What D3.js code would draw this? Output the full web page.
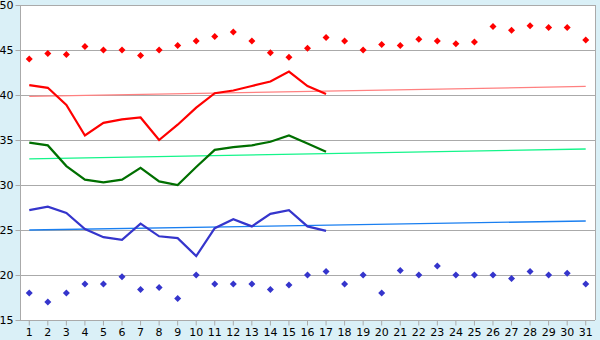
<!DOCTYPE html>
<html>
<head>
<meta charset="utf-8">
<script src="https://cdn.jsdelivr.net/npm/d3@7"></script>
<style>
  body { margin: 0; background: #daf0f7; }
  text { font-family: "DejaVu Sans", Verdana, sans-serif; font-size: 11px; fill: #000; }
</style>
</head>
<body>
<script>
// Jours du mois (axe des x)
var days = d3.range(1, 32);

// Nuages de points haut et bas
var upperPts = [44.0, 44.6, 44.5, 45.4, 45.0, 45.0, 44.4, 45.0, 45.5, 46.0,
  46.5, 47.0, 46.0, 44.7, 44.2, 45.2, 46.4, 46.0, 45.0, 45.6, 45.5, 46.2,
  46.0, 45.7, 45.9, 47.6, 47.2, 47.7, 47.5, 47.5, 46.1];
var lowerPts = [18.0, 17.0, 18.0, 19.0, 19.0, 19.8, 18.4, 18.6, 17.4, 20.0,
  19.0, 19.0, 19.0, 18.4, 18.9, 20.0, 20.4, 19.0, 20.0, 18.0, 20.5, 20.0,
  21.0, 20.0, 20.0, 20.0, 19.6, 20.4, 20.0, 20.2, 19.0];

// Courbes (jours 1 à 17)
var redLine = [41.1, 40.8, 38.9, 35.5, 36.9, 37.3, 37.5, 35.0, 36.7, 38.6,
  40.2, 40.5, 41.0, 41.5, 42.6, 41.0, 40.1];
var greenLine = [34.7, 34.4, 32.1, 30.6, 30.3, 30.6, 31.9, 30.4, 30.0, 32.0,
  33.9, 34.2, 34.4, 34.8, 35.5, 34.6, 33.7];
var blueLine = [27.2, 27.6, 26.9, 25.1, 24.2, 23.9, 25.7, 24.3, 24.1, 22.1,
  25.2, 26.2, 25.4, 26.8, 27.2, 25.4, 24.9];

// Droites de tendance : valeur au jour 1 et au jour 31
var redTrend = [39.85, 40.95];
var greenTrend = [32.9, 34.0];
var blueTrend = [25.0, 26.0];

var yTicks = [15, 20, 25, 30, 35, 40, 45, 50];

var margin = { top: 5, right: 5, bottom: 20, left: 20 };
var width = 600 - margin.left - margin.right,
  height = 340 - margin.top - margin.bottom;

var svg = d3.select("body").append("svg")
  .attr("width", 600)
  .attr("height", 340);

var g = svg.append("g")
  .attr("transform", `translate(${margin.left},${margin.top})`);

var x = d3.scaleBand().domain(days).range([0, width]).padding(0);
var cx = function (d) { return x(d) + x.bandwidth() / 2; };
var y = d3.scaleLinear().domain([15, 50]).range([height, 0]);

// Zone de tracé
g.append("rect")
  .attr("width", width).attr("height", height)
  .attr("fill", "#fff");

// Grille horizontale
g.selectAll(".grid").data(yTicks.slice(1)).enter().append("line")
  .attr("x1", 0).attr("x2", width)
  .attr("y1", function (d) { return Math.round(y(d)) + 0.5; })
  .attr("y2", function (d) { return Math.round(y(d)) + 0.5; })
  .attr("stroke", "#aaa");

// Bordure droite
g.append("line")
  .attr("x1", width + 0.5).attr("x2", width + 0.5)
  .attr("y1", 0).attr("y2", height)
  .attr("stroke", "#aaa");

// Axes
var yAxis = g.append("g").attr("transform", "translate(0.5,0)")
  .call(d3.axisLeft(y).tickValues(yTicks).tickSize(5).tickPadding(2));
var xAxis = g.append("g").attr("transform", `translate(0,${height + 0.5})`)
  .call(d3.axisBottom(x).tickSize(5).tickPadding(3));
[xAxis, yAxis].forEach(function (a) {
  a.selectAll("path,line").attr("stroke", "#aaa");
  a.selectAll("text").style("font-size", "11px").attr("fill", "#000")
    .style("font-family", "'DejaVu Sans', Verdana, sans-serif");
});
yAxis.select(".domain").attr("d", `M0,0V${height}`);
xAxis.select(".domain").attr("d", `M0,0H${width}`);

// Tendances
function trend(vals, color) {
  g.append("line")
    .attr("x1", cx(1)).attr("x2", cx(31))
    .attr("y1", y(vals[0])).attr("y2", y(vals[1]))
    .attr("stroke", color).attr("stroke-width", 1.3);
}
trend(redTrend, "#ff8080");
trend(greenTrend, "#14f58a");
trend(blueTrend, "#1a7ff0");

// Courbes
function curve(vals, color) {
  var line = d3.line()
    .x(function (d, i) { return cx(days[i]); })
    .y(function (d) { return y(d); });
  g.append("path").datum(vals)
    .attr("d", line)
    .attr("fill", "none")
    .attr("stroke", color)
    .attr("stroke-width", 2.2);
}
curve(redLine, "#ff0000");
curve(greenLine, "#006f00");
curve(blueLine, "#3535cc");

// Points (losange carré, comme des petites croix pleines)
var r = 3.5;
var marker = `M0,${-r}L${r},0L0,${r}L${-r},0Z`;
function points(vals, color) {
  g.selectAll(null).data(vals).enter().append("path")
    .attr("d", marker)
    .attr("transform", function (d, i) {
      return `translate(${cx(days[i])},${y(d)})`;
    })
    .attr("fill", color);
}
points(upperPts, "#ff0000");
points(lowerPts, "#3535cc");
</script>
</body>
</html>
